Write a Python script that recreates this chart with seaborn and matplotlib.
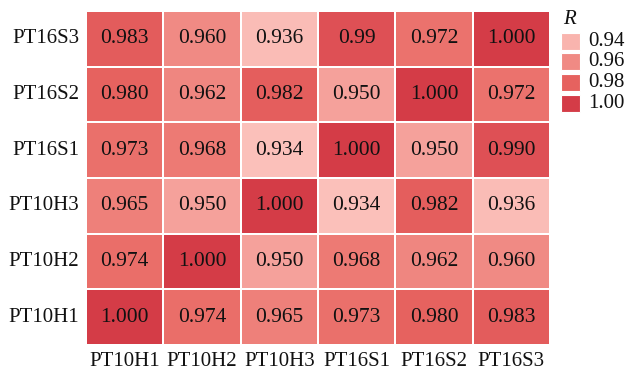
import numpy as np
import pandas as pd
import matplotlib
matplotlib.use("Agg")
import matplotlib.pyplot as plt
from matplotlib.colors import LinearSegmentedColormap
from matplotlib.patches import Rectangle
import seaborn as sns

samples = ["PT10H1", "PT10H2", "PT10H3", "PT16S1", "PT16S2", "PT16S3"]
row_order = ["PT16S3", "PT16S2", "PT16S1", "PT10H3", "PT10H2", "PT10H1"]

# correlation values, rows listed top to bottom
r_pt16s3 = [0.983, 0.960, 0.936, 0.990, 0.972, 1.000]
r_pt16s2 = [0.980, 0.962, 0.982, 0.950, 1.000, 0.972]
r_pt16s1 = [0.973, 0.968, 0.934, 1.000, 0.950, 0.990]
r_pt10h3 = [0.965, 0.950, 1.000, 0.934, 0.982, 0.936]
r_pt10h2 = [0.974, 1.000, 0.950, 0.968, 0.962, 0.960]
r_pt10h1 = [1.000, 0.974, 0.965, 0.973, 0.980, 0.983]
cell_labels = [
    ["0.983", "0.960", "0.936", "0.99", "0.972", "1.000"],
    ["0.980", "0.962", "0.982", "0.950", "1.000", "0.972"],
    ["0.973", "0.968", "0.934", "1.000", "0.950", "0.990"],
    ["0.965", "0.950", "1.000", "0.934", "0.982", "0.936"],
    ["0.974", "1.000", "0.950", "0.968", "0.962", "0.960"],
    ["1.000", "0.974", "0.965", "0.973", "0.980", "0.983"],
]
legend_breaks = [0.94, 0.96, 0.98, 1.00]

df = pd.DataFrame([r_pt16s3, r_pt16s2, r_pt16s1, r_pt10h3, r_pt10h2, r_pt10h1],
                  index=row_order, columns=samples)

sns.set_theme(style="white")
plt.rcParams["font.family"] = ["Liberation Serif", "DejaVu Serif"]

vmin, vmax = 0.934, 1.0
stops = [(0.934, "#fbc0ba"), (0.950, "#f5a19b"), (0.960, "#f08a84"),
         (0.970, "#ec7670"), (0.980, "#e6625f"), (0.990, "#de5055"),
         (1.000, "#d43c47")]
cmap = LinearSegmentedColormap.from_list(
    "pinkred", [((v - vmin) / (vmax - vmin), c) for v, c in stops])

fig = plt.figure(figsize=(6.29, 3.72), dpi=100)
ax = fig.add_axes([86 / 629, 1 - 345 / 372, 464 / 629, 334 / 372])
sns.heatmap(df, ax=ax, cmap=cmap, vmin=vmin, vmax=vmax, cbar=False,
            annot=np.array(cell_labels), fmt="",
            annot_kws={"fontsize": 15.5, "color": "#111111"},
            linewidths=1.2, linecolor="white")
ax.tick_params(axis="both", length=0, labelsize=15, colors="#111111", pad=5)
ax.set_yticklabels(row_order, rotation=0)
ax.set_xticklabels(samples, rotation=0)
ax.set_xlabel("")
ax.set_ylabel("")

# discrete legend for R
fig.text(563 / 629, 1 - 20 / 372, "R", fontsize=15, style="italic",
         ha="left", va="center", color="#111111")
sw, sh = 19 / 629, 17 / 372
for i, val in enumerate(legend_breaks):
    yc = 41 + i * 20.7
    fig.patches.append(Rectangle((561 / 629, 1 - (yc + 8.5) / 372), sw, sh,
                                 transform=fig.transFigure,
                                 facecolor=cmap((val - vmin) / (vmax - vmin)),
                                 edgecolor="white", linewidth=0.8))
    fig.text(588 / 629, 1 - yc / 372, f"{val:.2f}", fontsize=15,
             ha="left", va="center", color="#111111")

fig.savefig("out.png", dpi=100)
